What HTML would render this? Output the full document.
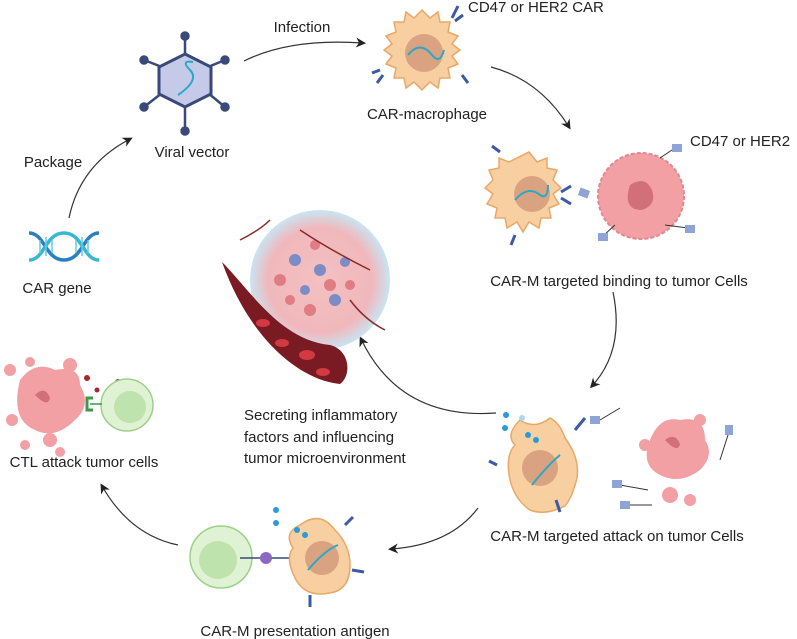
<!DOCTYPE html>
<html><head><meta charset="utf-8"><style>
html,body{margin:0;padding:0;background:#fff}
svg{display:block}
text{font-family:"Liberation Sans",sans-serif;font-size:15px;fill:#222}
</style></head><body>
<svg width="797" height="639" viewBox="0 0 797 639">
<defs>
<marker id="ah" markerWidth="10" markerHeight="10" refX="7" refY="5" orient="auto" markerUnits="userSpaceOnUse">
<path d="M0,0 L10,5 L0,10 L3,5 z" fill="#222"/></marker>
<radialGradient id="tme" cx="50%" cy="50%" r="50%"><stop offset="0" stop-color="#f4c0c0"/><stop offset="0.75" stop-color="#f0b8bc"/><stop offset="1" stop-color="#c9e4f2"/></radialGradient>
</defs>

<g fill="none" stroke="#333" stroke-width="1.2" marker-end="url(#ah)">
<path d="M244,61 Q290,38 363,43"/>
<path d="M491,67 Q540,80 569,127"/>
<path d="M69,218 Q80,165 130,139"/>
<path d="M613,292 Q625,350 592,386"/>
<path d="M496,413 Q400,420 361,339"/>
<path d="M478,508 Q450,545 391,549"/>
<path d="M178,545 Q130,535 102,486"/>
</g>

<g stroke="#3a4a78" stroke-width="2.5" fill="#3a4a78">
<line x1="185" y1="54" x2="185" y2="36"/><line x1="185" y1="106" x2="185" y2="131"/>
<line x1="162" y1="67" x2="144" y2="60"/><line x1="208" y1="67" x2="225" y2="60"/>
<line x1="162" y1="93" x2="144" y2="107"/><line x1="208" y1="93" x2="225" y2="107"/>
<circle cx="185" cy="36" r="3.5"/><circle cx="185" cy="131" r="3.5"/>
<circle cx="144" cy="60" r="3.5"/><circle cx="225" cy="60" r="3.5"/>
<circle cx="144" cy="107" r="3.5"/><circle cx="225" cy="107" r="3.5"/>
</g>
<polygon points="185,54 211,67 211,94 185,107 159,94 159,67" fill="#c5cae8" stroke="#3a4a78" stroke-width="3"/>
<path d="M178,95 Q200,80 190,70 Q180,60 193,62" fill="none" stroke="#2aa8c8" stroke-width="2"/>
<text x="192" y="157" text-anchor="middle">Viral vector</text>
<text x="302" y="32" text-anchor="middle">Infection</text>
<text x="53" y="167" text-anchor="middle">Package</text>

<!-- CAR gene double helix -->
<g fill="none" stroke-width="3.5">
<path d="M29,233 C45,233 45,260 64,260 C83,260 83,233 99,233" stroke="#2a7fc0"/>
<path d="M29,260 C45,260 45,233 64,233 C83,233 83,260 99,260" stroke="#35b8d0"/>
</g>
<g stroke="#6cc8dc" stroke-width="1.5"><line x1="40" y1="240" x2="40" y2="253"/><line x1="46" y1="237" x2="46" y2="256"/><line x1="52" y1="240" x2="52" y2="253"/><line x1="76" y1="240" x2="76" y2="253"/><line x1="82" y1="237" x2="82" y2="256"/><line x1="88" y1="240" x2="88" y2="253"/></g>
<text x="57" y="293" text-anchor="middle">CAR gene</text>

<g>
<path d="M422,10 l8,8 8,-6 2,10 10,0 -2,10 10,4 -6,8 8,6 -8,6 6,8 -10,4 2,10 -10,0 -2,10 -8,-6 -8,8 -8,-8 -8,6 -2,-10 -10,0 2,-10 -10,-4 6,-8 -8,-6 8,-6 -6,-8 10,-4 -2,-10 10,0 2,-10 8,6 z" fill="#f7cfa0" stroke="#e8a868" stroke-width="1.5"/>
<circle cx="424" cy="53" r="19" fill="#d9a382"/>
<path d="M408,55 Q420,40 432,55 Q440,65 444,50" fill="none" stroke="#2aa8c8" stroke-width="2"/>
<path d="M452,18 l6,-12 M455,21 l8,-6 M383,75 l-6,8 M380,70 l-8,3 M462,75 l6,8" stroke="#3a5aa8" stroke-width="3"/>
</g>
<text x="427" y="119" text-anchor="middle">CAR-macrophage</text>
<text x="468" y="12">CD47 or HER2 CAR</text>

<path d="M529,152 l8,10 10,-4 0,10 10,2 -4,10 8,8 -8,6 6,10 -10,4 2,10 -10,0 -2,10 -10,-6 -6,10 -6,-10 -10,6 -2,-10 -10,0 2,-10 -10,-4 6,-10 -8,-6 8,-8 -4,-10 10,-2 0,-10 10,4 z" fill="#f7cfa0" stroke="#e8a868" stroke-width="1.5"/>
<circle cx="532" cy="194" r="18" fill="#d9a382"/>
<path d="M515,200 Q528,185 540,195 Q548,200 548,185" fill="none" stroke="#2aa8c8" stroke-width="2"/>
<path d="M500,152 l-8,-6 M561,192 l10,-6 M561,198 l10,6 M515,235 l-4,10" stroke="#3a5aa8" stroke-width="3"/>
<circle cx="641" cy="196" r="43" fill="#f2a0a4" stroke="#e08890" stroke-width="2" stroke-dasharray="4 2"/>
<path d="M630,185 q15,-10 22,5 q5,15 -10,20 q-20,0 -12,-25z" fill="#d2707a"/>
<g stroke="#333" stroke-width="1"><line x1="660" y1="158" x2="675" y2="148"/><line x1="665" y1="225" x2="688" y2="228"/><line x1="615" y1="225" x2="603" y2="236"/></g>
<g fill="#8fa4d6"><rect x="579" y="189" width="10" height="8" transform="rotate(20 584 193)"/><rect x="672" y="144" width="10" height="8"/><rect x="685" y="225" width="10" height="8"/><rect x="598" y="233" width="10" height="8"/></g>
<text x="690" y="146">CD47 or HER2</text>
<text x="619" y="286" text-anchor="middle">CAR-M targeted binding to tumor Cells</text>

<circle cx="320" cy="280" r="70" fill="url(#tme)"/>
<g fill="#7b8cc6"><circle cx="295" cy="260" r="6"/><circle cx="320" cy="270" r="6"/><circle cx="305" cy="290" r="5"/><circle cx="335" cy="300" r="6"/><circle cx="345" cy="262" r="5"/></g>
<g fill="#e07c84"><circle cx="280" cy="280" r="6"/><circle cx="330" cy="285" r="6"/><circle cx="310" cy="310" r="6"/><circle cx="290" cy="300" r="5"/><circle cx="350" cy="285" r="5"/><circle cx="315" cy="245" r="5"/></g>
<path d="M222,262 C250,290 280,340 330,345 C350,350 352,375 340,384 C300,380 250,340 222,262z" fill="#7a1a22"/>
<g fill="#d03a40"><ellipse cx="263" cy="323" rx="7" ry="4"/><ellipse cx="282" cy="343" rx="7" ry="4"/><ellipse cx="307" cy="355" rx="8" ry="5"/><ellipse cx="323" cy="372" rx="7" ry="4"/></g>
<path d="M240,240 Q260,230 270,220 M300,230 Q330,250 370,270 M350,300 Q365,320 385,330" stroke="#8a2a2a" stroke-width="1.5" fill="none"/>

<text x="244" y="420">Secreting inflammatory</text>
<text x="244" y="442">factors and influencing</text>
<text x="244" y="463">tumor microenvironment</text>

<path d="M520,420 q15,10 30,-2 q10,5 15,20 q15,20 12,40 q-5,20 -12,28 q-20,10 -35,4 q-15,-10 -20,-30 q-5,-25 5,-35 q-10,-10 5,-25z" fill="#f7cfa0" stroke="#e8a868" stroke-width="1.5"/>
<circle cx="540" cy="468" r="18" fill="#d9a382"/>
<path d="M532,485 Q548,465 560,455" fill="none" stroke="#2aa8c8" stroke-width="2"/>
<path d="M575,430 l10,-12 M497,465 l-8,-4 M556,500 l4,12" stroke="#3a5aa8" stroke-width="3"/>
<g fill="#2a9ad8"><circle cx="506" cy="415" r="3"/><circle cx="505" cy="428" r="3"/><circle cx="528" cy="435" r="3"/><circle cx="536" cy="440" r="3"/></g>
<circle cx="522" cy="418" r="3" fill="#a8d8f0"/>
<path d="M650,440 q10,-25 30,-20 q25,-5 25,20 q10,15 -5,30 q-20,15 -40,5 q-20,-10 -10,-35z" fill="#f2a0a4"/>
<circle cx="645" cy="445" r="6" fill="#f2a0a4"/><circle cx="700" cy="420" r="6" fill="#f2a0a4"/><circle cx="670" cy="495" r="8" fill="#f2a0a4"/><circle cx="690" cy="500" r="6" fill="#f2a0a4"/>
<path d="M665,440 q10,-8 15,4 q-2,10 -15,-4z" fill="#d2707a"/>
<g stroke="#333" stroke-width="1"><line x1="620" y1="408" x2="600" y2="420"/><line x1="720" y1="460" x2="728" y2="435"/><line x1="620" y1="485" x2="648" y2="490"/><line x1="630" y1="505" x2="652" y2="505"/></g>
<g fill="#8fa4d6"><rect x="590" y="416" width="10" height="8"/><rect x="725" y="425" width="8" height="10"/><rect x="612" y="480" width="10" height="8"/><rect x="620" y="501" width="10" height="8"/></g>
<text x="617" y="541" text-anchor="middle">CAR-M targeted attack on tumor Cells</text>

<circle cx="221" cy="557" r="31" fill="#dff2d4" stroke="#9cd08a" stroke-width="1.5"/>
<circle cx="218" cy="560" r="19" fill="#bfe3ac"/>
<line x1="240" y1="558" x2="290" y2="558" stroke="#3a4a78" stroke-width="1.5"/>
<circle cx="266" cy="558" r="6" fill="#8a6ac0"/>
<path d="M300,525 q20,-15 35,5 q15,15 15,35 q0,25 -20,28 q-25,5 -35,-15 q-10,-20 -2,-30 q-10,-15 7,-23z" fill="#f7cfa0" stroke="#e8a868" stroke-width="1.5"/>
<circle cx="322" cy="558" r="17" fill="#d9a382"/>
<path d="M308,570 Q325,550 338,545" fill="none" stroke="#2aa8c8" stroke-width="2"/>
<path d="M345,525 l8,-8 M352,570 l12,2 M310,595 l0,12" stroke="#3a5aa8" stroke-width="3"/>
<g fill="#2a9ad8"><circle cx="276" cy="510" r="3"/><circle cx="276" cy="523" r="3"/><circle cx="297" cy="530" r="3"/><circle cx="305" cy="535" r="3"/></g>
<text x="295" y="636" text-anchor="middle">CAR-M presentation antigen</text>

<path d="M20,380 q15,-20 35,-10 q25,-5 25,15 q12,20 -5,35 q-20,20 -40,10 q-25,-10 -15,-50z" fill="#f2a0a4"/>
<circle cx="10" cy="370" r="6" fill="#f2a0a4"/><circle cx="70" cy="365" r="7" fill="#f2a0a4"/><circle cx="50" cy="440" r="7" fill="#f2a0a4"/><circle cx="12" cy="420" r="6" fill="#f2a0a4"/>
<circle cx="30" cy="362" r="5" fill="#f2a0a4"/><circle cx="60" cy="452" r="5" fill="#f2a0a4"/><circle cx="25" cy="445" r="5" fill="#f2a0a4"/>
<path d="M35,395 q10,-10 15,3 q-2,10 -15,-3z" fill="#d2707a"/>
<g fill="#a8262e"><circle cx="87" cy="378" r="3"/><circle cx="118" cy="382" r="3"/><circle cx="130" cy="382" r="3"/><circle cx="97" cy="390" r="2.5"/></g>
<circle cx="127" cy="405" r="26" fill="#dff2d4" stroke="#9cd08a" stroke-width="1.5"/>
<circle cx="130" cy="407" r="16" fill="#bfe3ac"/>
<path d="M93,398 h-6 v12 h6" fill="none" stroke="#3a9a48" stroke-width="3"/>
<line x1="90" y1="404" x2="102" y2="404" stroke="#3a9a48" stroke-width="1.5"/>
<text x="84" y="467" text-anchor="middle">CTL attack tumor cells</text>
</svg>
</body></html>
